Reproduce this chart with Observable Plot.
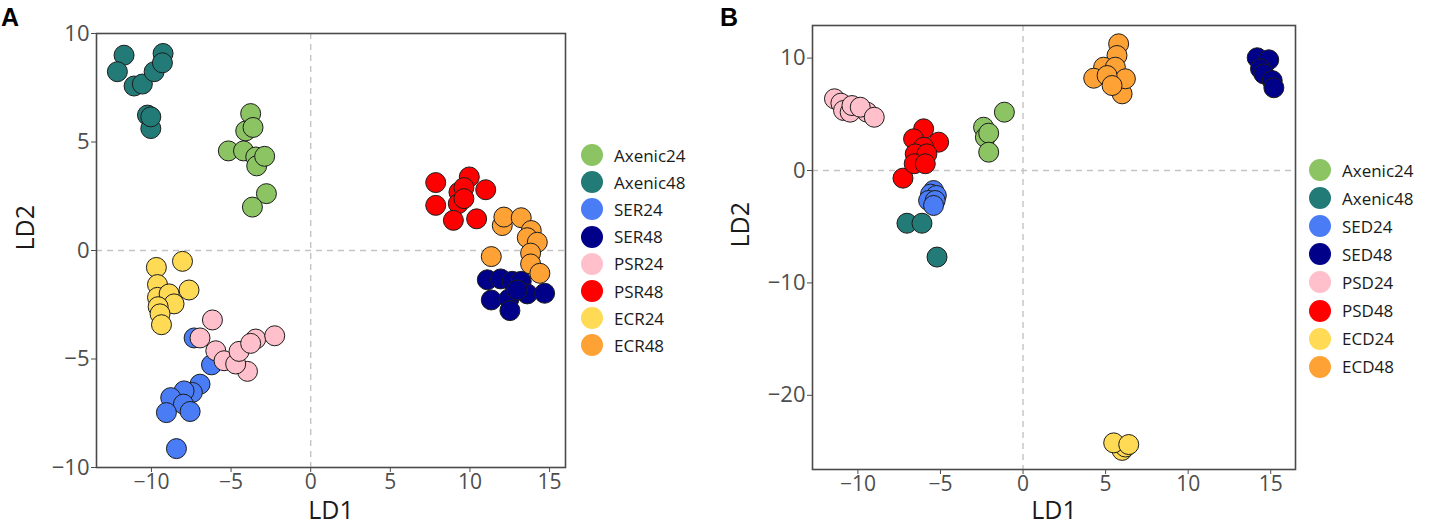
<!DOCTYPE html>
<html>
<head>
<meta charset="utf-8">
<script src="https://cdn.jsdelivr.net/npm/d3@7"></script>
<script src="https://cdn.jsdelivr.net/npm/@observablehq/plot@0.6"></script>
<style>
  html, body { margin: 0; padding: 0; background: white; }
  #root { position: relative; width: 1429px; height: 532px; overflow: hidden; font-family: "Open Sans", sans-serif; }
  .panel { position: absolute; top: 0; }
  .tag { position: absolute; font-family: "Liberation Sans", Arial, sans-serif; font-weight: bold; font-size: 25px; color: #000; line-height: 1; }
  .legend { position: absolute; }
  .item { position: absolute; left: 0; height: 24px; display: flex; align-items: center; white-space: nowrap; }
  .sw { width: 22px; height: 22px; border-radius: 50%; margin-right: 11px; flex: none; }
  .lab { font-size: 17px; color: #1a1a1a; }
</style>
</head>
<body>
<div id="root"></div>
<script>
// ---------- Panel A data (LD1, LD2) ----------
const groupsA = ["Axenic24", "Axenic48", "SER24", "SER48", "PSR24", "PSR48", "ECR24", "ECR48"];
const axenic24A = [[-3.77,6.31],[-4.08,5.51],[-3.62,5.67],[-5.17,4.59],[-4.22,4.59],[-3.45,4.31],[-3.39,3.90],[-2.89,4.34],[-2.78,2.62],[-3.66,2.00]];
const axenic48A = [[-11.72,9.00],[-12.14,8.24],[-11.09,7.58],[-10.57,7.67],[-9.83,8.24],[-9.27,9.08],[-9.31,8.65],[-10.25,6.24],[-10.04,5.62],[-10.04,6.16]];
const ser24A    = [[-7.32,-4.03],[-6.23,-5.27],[-6.95,-6.16],[-7.43,-6.54],[-7.95,-6.47],[-8.79,-6.78],[-7.99,-7.08],[-9.06,-7.47],[-7.57,-7.42],[-8.43,-9.13]];
const ser48A    = [[11.09,-1.35],[11.93,-1.31],[12.66,-1.42],[13.22,-1.42],[13.60,-2.00],[14.69,-1.97],[11.34,-2.28],[12.45,-2.23],[12.51,-2.77],[12.97,-1.82]];
const psr24A    = [[-6.17,-3.20],[-6.95,-4.03],[-5.96,-4.62],[-5.44,-5.08],[-3.97,-5.57],[-4.71,-5.23],[-4.50,-4.65],[-3.45,-4.08],[-3.77,-4.28],[-2.26,-3.93]];
const psr48A    = [[7.85,3.13],[9.96,3.39],[9.31,2.69],[9.62,2.90],[10.99,2.80],[9.27,2.16],[9.62,2.39],[7.85,2.08],[8.96,1.39],[10.42,1.46]];
const ecr24A    = [[-9.69,-0.78],[-8.05,-0.50],[-9.62,-1.57],[-7.64,-1.82],[-9.62,-2.16],[-8.89,-2.00],[-8.58,-2.46],[-9.58,-2.59],[-9.46,-2.92],[-9.37,-3.42]];
const ecr48A    = [[12.03,1.15],[12.13,1.54],[13.22,1.51],[13.85,0.92],[13.60,0.59],[14.23,0.38],[13.81,-0.12],[11.34,-0.28],[13.81,-0.62],[14.39,-1.05]];
const seriesA = [axenic24A, axenic48A, ser24A, ser48A, psr24A, psr48A, ecr24A, ecr48A];

// ---------- Panel B data (LD1, LD2) ----------
const groupsB = ["Axenic24", "Axenic48", "SED24", "SED48", "PSD24", "PSD48", "ECD24", "ECD48"];
const axenic24B = [[-1.13,5.19],[-2.39,3.85],[-2.28,2.96],[-2.08,3.32],[-2.08,1.63]];
const axenic48B = [[-7.03,-4.69],[-6.12,-4.69],[-5.21,-7.70]];
const sed24B    = [[-5.42,-1.78],[-5.60,-2.10],[-5.25,-2.22],[-5.72,-2.67],[-5.32,-2.67],[-5.42,-3.11]];
const sed48B    = [[14.18,10.03],[14.88,9.85],[14.38,9.05],[14.58,8.60],[15.09,8.00],[15.19,7.36]];
const psd24B    = [[-11.42,6.38],[-11.03,5.99],[-10.87,5.34],[-10.47,5.19],[-10.36,5.78],[-9.45,5.19],[-9.86,5.63],[-9.01,4.74]];
const psd48B    = [[-7.27,-0.68],[-6.02,3.71],[-6.63,2.82],[-5.11,2.52],[-6.02,2.07],[-6.53,1.48],[-5.82,1.48],[-6.59,0.60],[-5.92,0.60]];
const ecd24B    = [[6.00,-24.90],[6.20,-24.60],[5.49,-24.23],[6.40,-24.38]];
const ecd48B    = [[6.00,6.82],[5.79,11.27],[5.69,10.23],[4.88,9.19],[5.59,9.19],[4.28,8.21],[6.20,8.16],[5.09,8.45],[5.39,7.56]];
const seriesB = [axenic24B, axenic48B, sed24B, sed48B, psd24B, psd48B, ecd24B, ecd48B];

const palette = ["#8cc463", "#237b78", "#4a7cf6", "#000088", "#ffc0cb", "#ff0000", "#ffda55", "#ffa236"];

const ticksAx = [-10, -5, 0, 5, 10, 15];
const ticksAy = [-10, -5, 0, 5, 10];
const ticksBx = [-10, -5, 0, 5, 10, 15];
const ticksBy = [-20, -10, 0, 10];

function rows(series, groups) {
  return series.flatMap((pts, i) => pts.map(([x, y]) => ({x, y, group: groups[i]})));
}

function panel(opts) {
  const data = rows(opts.series, opts.groups);
  return Plot.plot({
    width: opts.width,
    height: 532,
    marginLeft: opts.ml, marginRight: opts.mr, marginTop: opts.mt, marginBottom: opts.mb,
    style: {fontFamily: "'Open Sans', sans-serif", background: "white", overflow: "visible"},
    x: {domain: opts.xd},
    y: {domain: opts.yd},
    color: {domain: opts.groups, range: palette},
    marks: [
      Plot.ruleX([0], {stroke: "#c4c4c4", strokeWidth: 1.4, strokeDasharray: "6,5"}),
      Plot.ruleY([0], {stroke: "#c4c4c4", strokeWidth: 1.4, strokeDasharray: "6,5"}),
      Plot.dot(data, {x: "x", y: "y", fill: "group", r: 10, stroke: "#1c1c1c", strokeWidth: 1, fillOpacity: 1}),
      Plot.frame({stroke: "#4a4a4a", strokeWidth: 1.6}),
      Plot.axisX({ticks: opts.xt, tickSize: 5, tickPadding: 2, fontSize: 21, color: "#4d4d4d", label: null}),
      Plot.axisY({ticks: opts.yt, tickSize: 5, tickPadding: 2, fontSize: 22, color: "#4d4d4d", label: null}),
      Plot.text(["LD1"], {frameAnchor: "bottom", dy: opts.xlabDy, fontSize: 25, fill: "#1a1a1a", text: d => d}),
      Plot.text(["LD2"], {frameAnchor: "left", dx: opts.ylabDx, rotate: -90, fontSize: 25, fill: "#1a1a1a", text: d => d})
    ]
  });
}

const root = document.getElementById("root");

function place(node, left) {
  const wrap = document.createElement("div");
  wrap.className = "panel";
  wrap.style.left = left + "px";
  wrap.appendChild(node);
  root.appendChild(wrap);
}

place(panel({series: seriesA, groups: groupsA, width: 580, ml: 96, mr: 15, mt: 33, mb: 65,
  xd: [-13.45, 16.0], yd: [-10, 10], xt: ticksAx, yt: ticksAy, xlabDy: 51, ylabDx: -71}), 0);

place(panel({series: seriesB, groups: groupsB, width: 600, ml: 112, mr: 5, mt: 25, mb: 63,
  xd: [-12.75, 16.5], yd: [-26.6, 12.9], xt: ticksBx, yt: ticksBy, xlabDy: 49, ylabDx: -72}), 700);

function legend(groups, left, top, step) {
  const lg = document.createElement("div");
  lg.className = "legend";
  lg.style.left = left + "px";
  lg.style.top = top + "px";
  groups.forEach((g, i) => {
    const it = document.createElement("div");
    it.className = "item";
    it.style.top = (i * step - 12) + "px";
    const sw = document.createElement("span");
    sw.className = "sw";
    sw.style.background = palette[i];
    const lab = document.createElement("span");
    lab.className = "lab";
    lab.textContent = g;
    it.appendChild(sw);
    it.appendChild(lab);
    lg.appendChild(it);
  });
  root.appendChild(lg);
}
legend(groupsA, 581, 155, 27.2);
legend(groupsB, 1309, 170, 28.1);

function tag(t, left, top) {
  const d = document.createElement("div");
  d.className = "tag";
  d.textContent = t;
  d.style.left = left + "px";
  d.style.top = top + "px";
  root.appendChild(d);
}
tag("A", 1, 5);
tag("B", 720, 5);
</script>
</body>
</html>
